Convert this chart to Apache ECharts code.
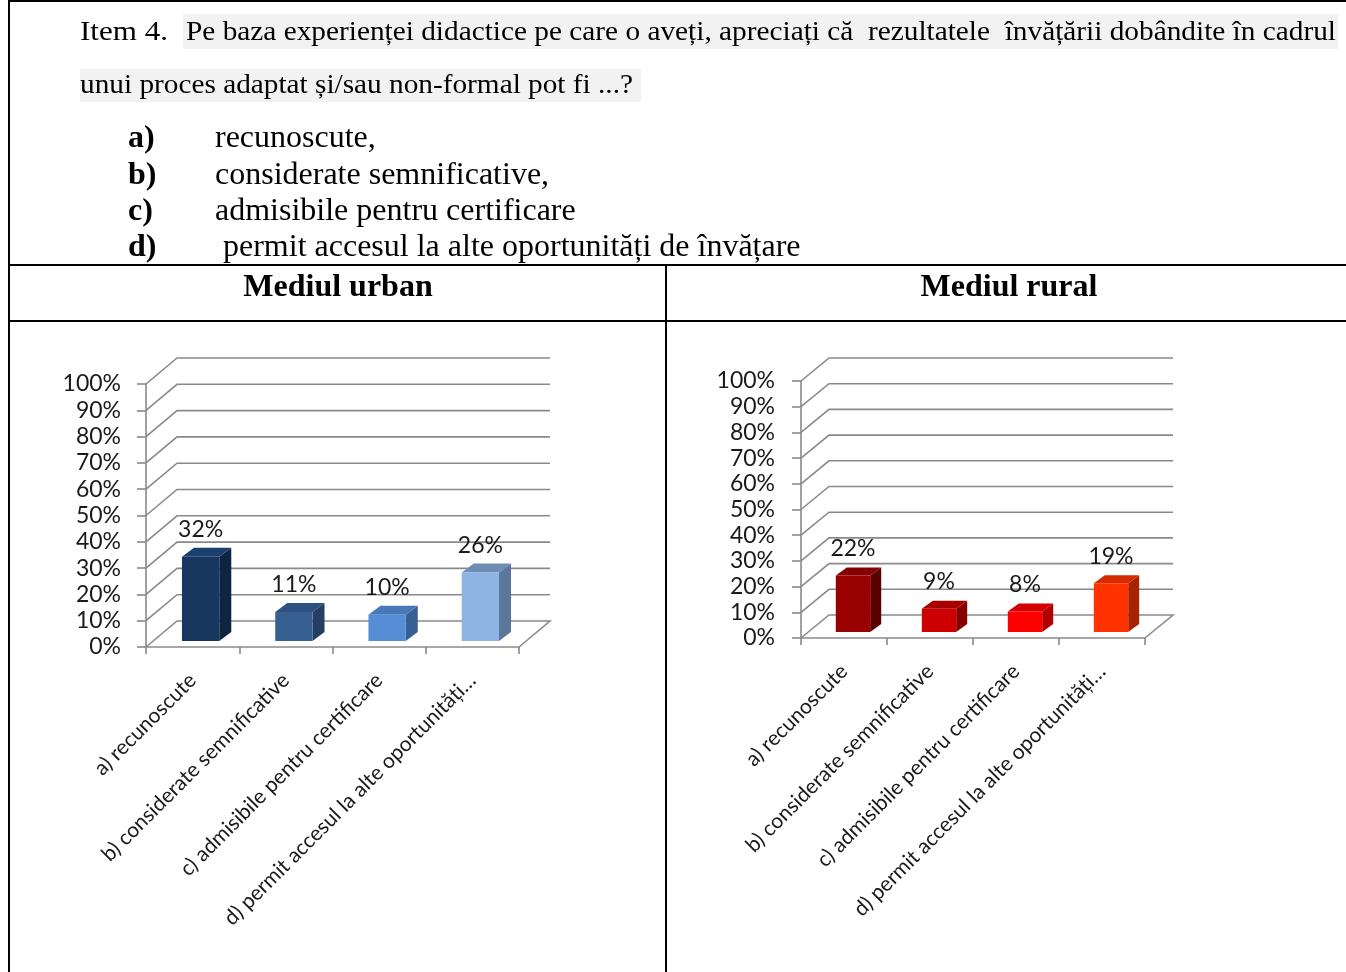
<!DOCTYPE html>
<html>
<head>
<meta charset="utf-8">
<script src="https://cdn.jsdelivr.net/npm/echarts@6/dist/echarts.min.js"></script>
<style>
html,body{margin:0;padding:0;background:#fff;}
#c{width:1346px;height:972px;}
</style>
</head>
<body>
<div id="c"></div>
<script>
// ---------- data ----------
const categories = ['a) recunoscute', 'b) considerate semnificative', 'c) admisibile pentru certificare', 'd) permit accesul la alte oportunități…'];
const urbanValues = [32, 11, 10, 26];
const ruralValues = [22, 9, 8, 19];
const tickValues = [0, 10, 20, 30, 40, 50, 60, 70, 80, 90, 100];
const panelTitles = ['Mediul urban', 'Mediul rural'];
const questionLead = 'Item 4.';
const questionLine1 = 'Pe baza experienței didactice pe care o aveți, apreciați că  rezultatele  învățării dobândite în cadrul';
const questionLine2 = 'unui proces adaptat și/sau non-formal pot fi ...?';
const optionKeys = ['a)', 'b)', 'c)', 'd)'];
const optionTexts = ['recunoscute,', 'considerate semnificative,', 'admisibile pentru certificare', ' permit accesul la alte oportunități de învățare'];

// ---------- styles ----------
const urbanColors = [
  {front: '#17375E', side: '#0F2440', top: '#1B4070'},
  {front: '#376092', side: '#243F61', top: '#2D5282'},
  {front: '#558ED5', side: '#375F93', top: '#4778BA'},
  {front: '#8EB4E3', side: '#5B779B', top: '#6E8DB5'}
];
const ruralColors = [
  {front: '#990000', side: '#5A0000', top: '#850000'},
  {front: '#CC0000', side: '#860000', top: '#A80000'},
  {front: '#FF0000', side: '#B00000', top: '#D40000'},
  {front: '#FF3300', side: '#A82400', top: '#D42B00'}
];
const GRID_COLOR = '#8A8A8A';
const chartFont = 'Lato';
const serif = '"Liberation Serif", "Times New Roman", serif';

const mctx = document.createElement('canvas').getContext('2d');
function measure(text, font) { mctx.font = font; return mctx.measureText(text).width; }

const chart = echarts.init(document.getElementById('c'), null, {renderer: 'canvas'});

// ---------- document graphics ----------
const graphics = [];
graphics.push({type: 'rect', shape: {x: 183, y: 14, width: 1155, height: 35}, style: {fill: '#F2F2F2'}, z: 1});
graphics.push({type: 'rect', shape: {x: 80, y: 69, width: 561, height: 33}, style: {fill: '#F2F2F2'}, z: 1});
const qFont = '28px ' + serif;
const sLead = 88 / measure(questionLead, qFont);
graphics.push({type: 'text', x: 80, y: 33, scaleX: sLead, z: 5,
  style: {text: questionLead, font: qFont, fill: '#000', verticalAlign: 'middle'}});
const s1 = (1336 - 186) / measure(questionLine1, qFont);
graphics.push({type: 'text', x: 186, y: 33, scaleX: s1, z: 5,
  style: {text: questionLine1, font: qFont, fill: '#000', verticalAlign: 'middle'}});
const s2 = (633 - 80) / measure(questionLine2, qFont);
graphics.push({type: 'text', x: 80, y: 86, scaleX: s2, z: 5,
  style: {text: questionLine2, font: qFont, fill: '#000', verticalAlign: 'middle'}});
const optY = [139, 176, 212, 248];
optionKeys.forEach((k, i) => {
  graphics.push({type: 'text', x: 128, y: optY[i], z: 5,
    style: {text: k, font: 'bold 32px ' + serif, fill: '#000', verticalAlign: 'middle'}});
  graphics.push({type: 'text', x: 215, y: optY[i], z: 5,
    style: {text: optionTexts[i], font: '32px ' + serif, fill: '#000', verticalAlign: 'middle'}});
});
const lineStyle = {stroke: '#000', lineWidth: 2};
graphics.push({type: 'line', shape: {x1: 9, y1: 1, x2: 1346, y2: 1}, style: lineStyle, z: 6});
graphics.push({type: 'line', shape: {x1: 9, y1: 0, x2: 9, y2: 972}, style: lineStyle, z: 6});
graphics.push({type: 'line', shape: {x1: 9, y1: 265, x2: 1346, y2: 265}, style: lineStyle, z: 6});
graphics.push({type: 'line', shape: {x1: 9, y1: 321, x2: 1346, y2: 321}, style: lineStyle, z: 6});
graphics.push({type: 'line', shape: {x1: 666, y1: 265, x2: 666, y2: 972}, style: lineStyle, z: 6});
[338, 1009].forEach((cx, i) => {
  graphics.push({type: 'text', x: cx, y: 288, z: 5,
    style: {text: panelTitles[i], font: 'bold 32px ' + serif, fill: '#000', align: 'center', verticalAlign: 'middle'}});
});

// ---------- 3D helpers ----------
function gridLines(D) {
  return function (params, api) {
    const cs = params.coordSys;
    const v = api.value(1);
    const y = api.coord([0, v])[1];
    const x0 = cs.x, x1 = cs.x + cs.width;
    const pts = v === 0
      ? [[x0, y], [x0 + D[0], y + D[1]], [x1 + D[0], y + D[1]], [x1, y]]
      : [[x0, y], [x0 + D[0], y + D[1]], [x1 + D[0], y + D[1]]];
    return {type: 'polyline', shape: {points: pts}, style: {stroke: GRID_COLOR, lineWidth: 1.6, fill: null}};
  };
}
function bars3d(cfg) {
  return function (params, api) {
    const i = api.value(0), v = api.value(1);
    const band = api.size([1, 0])[0];
    const base = api.coord([i, 0]);
    const top = api.coord([i, v]);
    const w = band * cfg.wRatio;
    const xl = base[0] + cfg.off[0] - w / 2, xr = xl + w;
    const yb = base[1] + cfg.off[1], yt = top[1] + cfg.off[1];
    const dx = cfg.depth[0], dy = cfg.depth[1];
    const c = cfg.colors[i];
    return {type: 'group', children: [
      {type: 'polygon', shape: {points: [[xr, yt], [xr + dx, yt + dy], [xr + dx, yb + dy], [xr, yb]]}, style: {fill: c.side}},
      {type: 'polygon', shape: {points: [[xl, yt], [xr, yt], [xr + dx, yt + dy], [xl + dx, yt + dy]]}, style: {fill: c.top}},
      {type: 'rect', shape: {x: xl, y: yt, width: w, height: yb - yt}, style: {fill: c.front}},
      {type: 'text', x: (xl + xr) / 2, y: yt - cfg.labelGap,
        style: {text: v + '%', fill: '#1a1a1a', fontSize: 23, fontFamily: chartFont, align: 'center', verticalAlign: 'middle'}}
    ]};
  };
}

function axisPair(gi, labelMargin) {
  return {
    x: {
      gridIndex: gi, type: 'category', data: categories,
      axisLine: {show: true, lineStyle: {color: GRID_COLOR, width: 1.6}},
      axisTick: {show: true, interval: 0, length: 7, lineStyle: {color: GRID_COLOR, width: 1.6}},
      axisLabel: {interval: 0, rotate: 45, margin: 30, fontFamily: chartFont, fontSize: 21, color: '#1a1a1a'},
      splitLine: {show: false}
    },
    y: {
      gridIndex: gi, type: 'value', min: 0, max: 100, interval: 10,
      axisLine: {show: true, lineStyle: {color: GRID_COLOR, width: 1.6}},
      axisTick: {show: true, length: 9, lineStyle: {color: GRID_COLOR, width: 1.6}},
      axisLabel: {formatter: '{value}%', margin: labelMargin, fontFamily: chartFont, fontSize: 23, color: '#1a1a1a'},
      splitLine: {show: false}
    }
  };
}
const a0 = axisPair(0, 25), a1 = axisPair(1, 26);

const option = {
  backgroundColor: '#fff',
  animation: false,
  grid: [
    {left: 146, top: 384, width: 373, height: 263, containLabel: false, outerBoundsMode: 'none'},
    {left: 801, top: 381, width: 344, height: 257, containLabel: false, outerBoundsMode: 'none'}
  ],
  xAxis: [a0.x, a1.x],
  yAxis: [a0.y, a1.y],
  series: [
    {type: 'custom', xAxisIndex: 0, yAxisIndex: 0, clip: false, z: 1,
      data: tickValues.map(v => [0, v]), renderItem: gridLines([31, -26]), silent: true},
    {type: 'custom', xAxisIndex: 1, yAxisIndex: 1, clip: false, z: 1,
      data: tickValues.map(v => [0, v]), renderItem: gridLines([28, -23]), silent: true},
    {type: 'custom', xAxisIndex: 0, yAxisIndex: 0, clip: false, z: 3,
      data: urbanValues.map((v, i) => [i, v]),
      renderItem: bars3d({wRatio: 0.4, off: [8, -6], depth: [12, -9], colors: urbanColors, labelGap: 27})},
    {type: 'custom', xAxisIndex: 1, yAxisIndex: 1, clip: false, z: 3,
      data: ruralValues.map((v, i) => [i, v]),
      renderItem: bars3d({wRatio: 0.4, off: [9, -6], depth: [11, -8], colors: ruralColors, labelGap: 27})}
  ],
  graphic: {elements: graphics}
};
chart.setOption(option);
</script>
</body>
</html>
